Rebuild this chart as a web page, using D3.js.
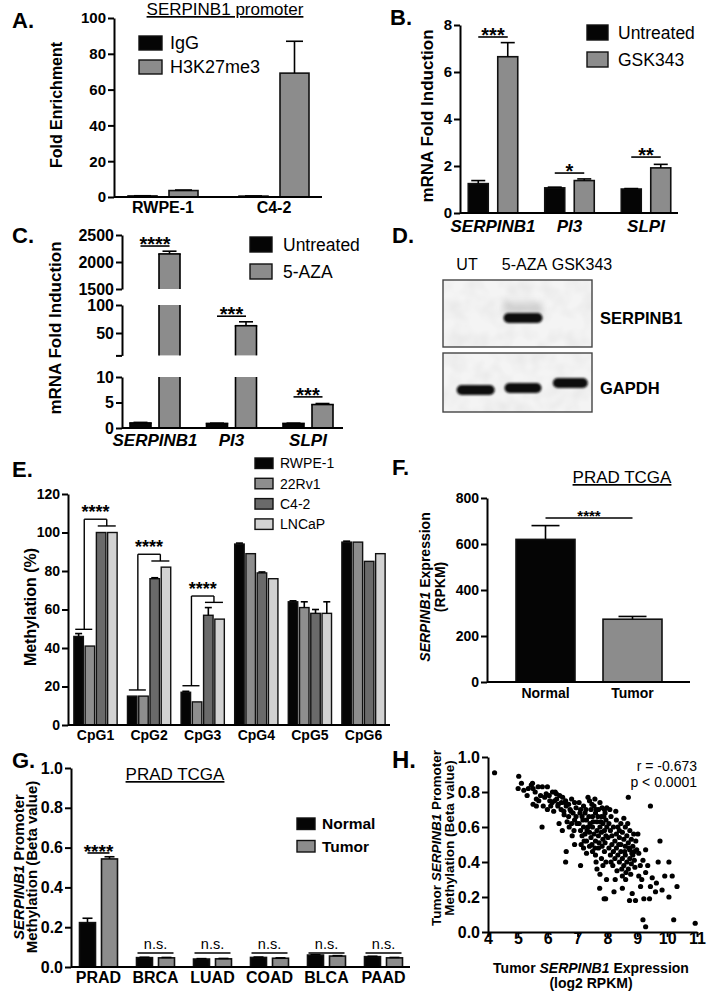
<!DOCTYPE html>
<html><head><meta charset="utf-8">
<script src="https://cdn.jsdelivr.net/npm/d3@7/dist/d3.min.js"></script>
<style>html,body{margin:0;padding:0;background:#fff;}svg{display:block;}</style>
</head><body>
<svg id="fig" width="710" height="992" xmlns="http://www.w3.org/2000/svg"></svg>
<script>
// ================= DATA =================
// Panel A – ChIP, SERPINB1 promoter
const aCategories = ["RWPE-1", "C4-2"];
const aSeries = ["IgG", "H3K27me3"];
const aIgG = [0.6, 0.5];
const aIgGErr = [0.1, 0.1];
const aH3K27me3 = [3.6, 69.2];
const aH3K27me3Err = [0.3, 17.8];
const aTicks = [0, 20, 40, 60, 80, 100];

// Panel B – GSK343
const bCategories = ["SERPINB1", "PI3", "SLPI"];
const bSeries = ["Untreated", "GSK343"];
const bUntreated = [1.25, 1.07, 1.02];
const bUntreatedErr = [0.13, 0.03, 0.02];
const bGSK343 = [6.65, 1.38, 1.92];
const bGSK343Err = [0.6, 0.07, 0.15];
const bSignif = ["***", "*", "**"];
const bSigLevel = [7.49, 1.70, 2.38];
const bTicks = [0, 2, 4, 6, 8];

// Panel C – 5-AZA (broken axis)
const cCategories = ["SERPINB1", "PI3", "SLPI"];
const cSeries = ["Untreated", "5-AZA"];
const cUntreated = [1.0, 0.9, 0.9];
const cUntreatedErr = [0.1, 0.05, 0.05];
const c5AZA = [2150, 63, 4.6];
const c5AZAErr = [50, 7, 0.2];
const cSignif = ["****", "***", "***"];
const cSigLevel = [2296, 80, 6.1];
const cSegments = [[0, 10], [10, 100], [1500, 2500]];
const cTicks = [[0, 5, 10], [10, 50, 100], [1500, 2000, 2500]];

// Panel D – western blot
const dLanes = ["UT", "5-AZA", "GSK343"];
const dBlots = ["SERPINB1", "GAPDH"];
const dSERPINB1Band = [0, 1, 0];
const dGAPDHBand = [1, 1, 1];

// Panel E – methylation (%)
const eCategories = ["CpG1", "CpG2", "CpG3", "CpG4", "CpG5", "CpG6"];
const eSeries = ["RWPE-1", "22Rv1", "C4-2", "LNCaP"];
const eRWPE1 = [46, 15, 17, 94, 64, 95];
const e22Rv1 = [41, 15, 12, 89, 61, 95];
const eC42 = [100, 76, 57, 79, 58, 85];
const eLNCaP = [100, 82, 55, 76, 58, 89];
const eRWPE1Err = [1.5, 0, 0.5, 0.5, 0.5, 0.5];
const e22Rv1Err = [0, 0, 0, 0, 3, 0];
const eC42Err = [0, 0.5, 4, 0.5, 2, 0];
const eLNCaPErr = [0, 0, 0, 0, 6, 0];
const eTicks = [0, 20, 40, 60, 80, 100, 120];
const eBracketCats = ["CpG1", "CpG2", "CpG3"];
const eBracketLeft = [49.7, 18.2, 20.4];
const eBracketRight = [103.4, 85.2, 63.7];
const eBracketTop = [106.9, 88.7, 67.0];
const eSignif = ["****", "****", "****"];

// Panel F – TCGA expression
const fCategories = ["Normal", "Tumor"];
const fValues = [620, 273];
const fErr = [60, 12];
const fTicks = [0, 200, 400, 600, 800];
const fSignif = "****";
const fSigLevel = 713;

// Panel G – TCGA promoter methylation
const gCategories = ["PRAD", "BRCA", "LUAD", "COAD", "BLCA", "PAAD"];
const gSeries = ["Normal", "Tumor"];
const gNormal = [0.223, 0.047, 0.040, 0.048, 0.060, 0.052];
const gNormalErr = [0.022, 0.002, 0.002, 0.002, 0.002, 0.002];
const gTumor = [0.543, 0.046, 0.041, 0.044, 0.055, 0.046];
const gTumorErr = [0.011, 0.002, 0.002, 0.002, 0.002, 0.002];
const gSignif = ["****", "n.s.", "n.s.", "n.s.", "n.s.", "n.s."];
const gSigLevel = [0.573, 0.07, 0.07, 0.07, 0.07, 0.07];
const gTicks = [0, 0.2, 0.4, 0.6, 0.8, 1.0];

// Panel H – scatter (log2 RPKM vs beta value)
const hPoints = [
 [4.22,0.91],
 [5.03,0.89],[5.12,0.85],[5.01,0.82],[5.31,0.78],[5.49,0.85],[5.51,0.82],[5.68,0.83],[5.82,0.83],[5.99,0.83],
 [5.62,0.76],[5.51,0.73],[5.62,0.72],[5.76,0.78],[5.81,0.60],[5.99,0.70],[5.90,0.77],[5.45,0.84],[5.70,0.75],
 [5.85,0.72],[5.95,0.79],[5.20,0.81],[5.58,0.80],[5.35,0.82],
 [6.07,0.75],[6.16,0.80],[6.29,0.79],[6.40,0.78],[6.23,0.75],[6.34,0.72],[6.46,0.74],[6.62,0.72],[6.54,0.69],
 [6.38,0.62],[6.49,0.58],[6.62,0.46],[6.60,0.40],[6.10,0.72],[6.20,0.69],[6.30,0.76],[6.50,0.77],[6.60,0.75],
 [6.70,0.73],[6.75,0.70],[6.80,0.76],[6.85,0.68],[6.90,0.74],[6.95,0.71],[6.70,0.66],[6.80,0.62],[6.90,0.64],
 [6.65,0.63],[6.05,0.78],[6.15,0.74],[6.45,0.70],[6.55,0.67],[6.72,0.60],[6.88,0.58],[6.95,0.66],[6.35,0.73],
 [6.25,0.80],[6.58,0.74],[6.78,0.69],[6.98,0.62],[6.90,0.50],[6.82,0.55],
 [7.05,0.74],[7.10,0.70],[7.15,0.66],[7.20,0.72],[7.25,0.68],[7.30,0.64],[7.35,0.77],[7.40,0.75],[7.45,0.70],
 [7.50,0.66],[7.55,0.72],[7.60,0.68],[7.65,0.63],[7.70,0.70],[7.75,0.74],[7.80,0.66],[7.85,0.62],[7.90,0.70],
 [7.95,0.64],[7.05,0.62],[7.10,0.58],[7.15,0.55],[7.20,0.60],[7.25,0.56],[7.30,0.52],[7.35,0.60],[7.40,0.57],
 [7.45,0.54],[7.50,0.60],[7.55,0.56],[7.60,0.52],[7.65,0.58],[7.70,0.55],[7.75,0.60],[7.80,0.57],[7.85,0.53],
 [7.90,0.58],[7.95,0.55],[7.10,0.38],[7.20,0.48],[7.30,0.45],[7.40,0.49],[7.50,0.46],[7.60,0.44],[7.70,0.48],
 [7.80,0.42],[7.85,0.38],[7.90,0.46],[7.65,0.36],[7.75,0.33],[7.74,0.25],[7.97,0.30],[7.89,0.19],[7.94,0.19],
 [7.48,0.73],[7.58,0.76],[7.28,0.70],[7.18,0.64],[7.62,0.70],[7.82,0.71],[7.92,0.68],[7.38,0.66],[7.42,0.62],
 [7.52,0.63],[7.68,0.66],[7.78,0.63],[7.88,0.66],[7.98,0.60],[7.22,0.52],[7.32,0.58],[7.48,0.50],[7.58,0.48],
 [7.72,0.51],[7.82,0.49],[7.92,0.51],[7.98,0.71],[7.08,0.68],[7.12,0.50],[7.62,0.40],[7.95,0.40],
 [8.05,0.62],[8.10,0.58],[8.15,0.55],[8.20,0.60],[8.25,0.52],[8.30,0.56],[8.35,0.60],[8.40,0.54],[8.45,0.50],
 [8.50,0.57],[8.55,0.53],[8.60,0.49],[8.65,0.55],[8.70,0.51],[8.75,0.47],[8.80,0.53],[8.85,0.49],[8.90,0.46],
 [8.05,0.48],[8.10,0.44],[8.15,0.50],[8.20,0.46],[8.25,0.42],[8.30,0.48],[8.35,0.44],[8.40,0.40],[8.45,0.46],
 [8.50,0.42],[8.55,0.38],[8.60,0.44],[8.65,0.40],[8.70,0.36],[8.75,0.42],[8.80,0.39],[8.85,0.44],[8.90,0.41],
 [8.22,0.23],[8.26,0.30],[8.50,0.25],[8.61,0.30],[8.50,0.32],[8.83,0.22],[8.74,0.18],[8.94,0.18],[8.70,0.77],
 [8.12,0.66],[8.30,0.64],[8.45,0.62],[8.60,0.60],[8.75,0.58],[8.88,0.56],[8.95,0.52],[8.02,0.54],[8.18,0.38],
 [8.32,0.35],[8.48,0.36],[8.62,0.34],[8.78,0.33],[8.92,0.37],[8.08,0.70],[8.28,0.69],[8.55,0.65],[8.40,0.58],
 [8.12,0.40],[8.38,0.50],[8.58,0.46],[8.72,0.48],[8.82,0.45],[8.68,0.62],[8.98,0.47],
 [9.11,0.26],[9.22,0.19],[9.28,0.34],[9.44,0.26],[9.41,0.19],[9.64,0.28],[9.61,0.23],[9.83,0.24],[9.92,0.32],
 [10.06,0.20],[10.33,0.26],[9.19,0.07],[9.28,0.03],[10.22,0.07],[10.94,0.05],[9.28,0.47],[9.19,0.41],[9.44,0.72],
 [9.76,0.52],[10.06,0.40],[10.17,0.32],[9.05,0.45],[9.10,0.38],[9.15,0.30],[9.02,0.56],[9.35,0.38],[9.50,0.31],
 [9.70,0.40],[9.05,0.32]
];
const hXTicks = [4, 5, 6, 7, 8, 9, 10, 11];
const hYTicks = [0, 0.2, 0.4, 0.6, 0.8, 1.0];
const hStats = ["r = -0.673", "p < 0.0001"];

// ================= HELPERS =================
const FONT = '"Liberation Sans", Arial, Helvetica, sans-serif';
const BLACK = "#050505", GRAY = "#8c8c8c";
const svg = d3.select("#fig");
svg.append("rect").attr("width", 710).attr("height", 992).attr("fill", "#fff");
const defs = svg.append("defs");

function T(g, x, y, s, o = {}) {
  const t = g.append("text").attr("x", x).attr("y", y).text(s)
    .attr("font-family", FONT).attr("font-size", o.size || 14)
    .attr("font-weight", o.weight || "normal").attr("font-style", o.style || "normal")
    .attr("text-anchor", o.anchor || "start").attr("fill", "#000");
  if (o.deco) t.attr("text-decoration", o.deco);
  return t;
}
function multiT(g, x, y, parts, o = {}) {
  const t = g.append("text").attr("x", x).attr("y", y)
    .attr("font-family", FONT).attr("font-size", o.size || 14).attr("font-weight", "bold")
    .attr("text-anchor", o.anchor || "middle").attr("fill", "#000");
  if (o.rotate) t.attr("transform", `rotate(-90,${x},${y})`);
  parts.forEach(([s, it]) => t.append("tspan").text(s).attr("font-style", it ? "italic" : "normal"));
  return t;
}
function hLine(g, x1, x2, y, w = 2) {
  g.append("line").attr("x1", x1).attr("x2", x2).attr("y1", y).attr("y2", y)
    .attr("stroke", "#000").attr("stroke-width", w);
}
function vLine(g, x, y1, y2, w = 2) {
  g.append("line").attr("x1", x).attr("x2", x).attr("y1", y1).attr("y2", y2)
    .attr("stroke", "#000").attr("stroke-width", w);
}
function yAxis(g, scale, x, ticks, fmt, size, tick = 6) {
  const ax = d3.axisLeft(scale).tickValues(ticks).tickSize(tick).tickSizeOuter(0).tickPadding(2);
  if (fmt) ax.tickFormat(fmt);
  const a = g.append("g").attr("transform", `translate(${x},0)`).call(ax);
  a.select(".domain").attr("stroke", "#000").attr("stroke-width", 2);
  a.selectAll(".tick line").attr("stroke", "#000").attr("stroke-width", 2);
  a.selectAll(".tick text").attr("font-family", FONT).attr("font-weight", "bold")
    .attr("font-size", size).attr("fill", "#000");
  return a;
}
function xLabels(g, band, y, size, italic) {
  const a = g.append("g").attr("transform", `translate(0,${y})`)
    .call(d3.axisBottom(band).tickSize(0).tickPadding(0));
  a.select(".domain").remove();
  a.selectAll(".tick text").attr("font-family", FONT).attr("font-weight", "bold")
    .attr("font-size", size).attr("font-style", italic ? "italic" : "normal")
    .attr("fill", "#000").attr("y", 0).attr("dy", 0);
}
function barX(outer, inner, c, s) {
  return outer(c) + outer.bandwidth() / 2 + inner(s);
}
function drawBars(g, outer, inner, y, cats, series, values, errs, colors, capW, sw = 1.6) {
  series.forEach((s, si) => {
    const rows = cats.map((c, ci) => ({ c, v: values[si][ci], e: errs[si][ci] }));
    g.selectAll(null).data(rows).join("rect")
      .attr("x", d => barX(outer, inner, d.c, s)).attr("width", inner.bandwidth())
      .attr("y", d => y(d.v)).attr("height", d => y(0) - y(d.v))
      .attr("fill", colors[si]).attr("stroke", "#111").attr("stroke-width", sw);
    rows.filter(d => d.e > 0).forEach(d => {
      const cx = barX(outer, inner, d.c, s) + inner.bandwidth() / 2;
      vLine(g, cx, y(d.v), y(d.v + d.e), 1.6);
      hLine(g, cx - capW / 2, cx + capW / 2, y(d.v + d.e), 1.6);
    });
  });
}
function legend(g, names, colors, o) {
  names.forEach((n, i) => {
    const ry = o.y0 + i * o.step;
    g.append("rect").attr("x", o.x).attr("y", ry).attr("width", o.w).attr("height", o.h)
      .attr("fill", colors[i]).attr("stroke", "#111").attr("stroke-width", 1.4);
    T(g, o.lx, ry + o.h / 2 + 0.36 * o.size, n, { size: o.size, weight: o.weight || "normal" });
  });
}
function sigMark(g, x1, x2, yy, label, size, weight = "bold", lw = 1.6) {
  hLine(g, x1, x2, yy, lw);
  if (label.startsWith("*")) T(g, (x1 + x2) / 2, yy + 0.43 * size - 3.5, label, { size, weight, anchor: "middle" });
  else T(g, (x1 + x2) / 2, yy - 4, label, { size, weight, anchor: "middle" });
}
function panelLetter(x, y, s, size = 22) { T(svg, x, y, s, { size, weight: "bold" }); }

// ================= PANEL A =================
{
  const g = svg.append("g");
  const y = d3.scaleLinear().domain([0, 100]).range([197, 18]);
  const x = d3.scaleBand().domain(aCategories).range([107.5, 329.5]);
  const xi = d3.scaleBand().domain(aSeries).range([-41, 41]).paddingInner(12 / 41).paddingOuter(6 / 41);
  drawBars(g, x, xi, y, aCategories, aSeries, [aIgG, aH3K27me3], [aIgGErr, aH3K27me3Err], [BLACK, GRAY], 17);
  hLine(g, 114, 322, 197);
  yAxis(g, y, 114, aTicks, null, 15);
  xLabels(g, x, 213, 16, false);
  T(g, 225, 15, "SERPINB1 promoter", { size: 17, anchor: "middle", deco: "underline" });
  legend(g, aSeries, [BLACK, GRAY], { x: 139, y0: 36, step: 24, w: 23, h: 14, lx: 170, size: 18 });
  multiT(g, 62, 105, [["Fold Enrichment", false]], { size: 16, rotate: true });
  panelLetter(12, 28, "A.");
}

// ================= PANEL B =================
{
  const g = svg.append("g");
  const y = d3.scaleLinear().domain([0, 8]).range([213, 25]);
  const x = d3.scaleBand().domain(bCategories).range([454.75, 684.25]);
  const xi = d3.scaleBand().domain(bSeries).range([-29.5, 29.5]).paddingInner(9.5 / 29.5).paddingOuter(4.75 / 29.5);
  drawBars(g, x, xi, y, bCategories, bSeries, [bUntreated, bGSK343], [bUntreatedErr, bGSK343Err], [BLACK, GRAY], 14);
  hLine(g, 460, 678, 213);
  yAxis(g, y, 460, bTicks, null, 15);
  xLabels(g, x, 232, 17, true);
  bCategories.forEach((c, i) => {
    const x1 = barX(x, xi, c, bSeries[0]) + xi.bandwidth() / 2;
    const x2 = barX(x, xi, c, bSeries[1]) + xi.bandwidth() / 2;
    sigMark(g, x1, x2, y(bSigLevel[i]), bSignif[i], 20);
  });
  legend(g, bSeries, [BLACK, GRAY], { x: 587, y0: 25, step: 27, w: 21, h: 15, lx: 618, size: 17.5 });
  multiT(g, 433, 116, [["mRNA Fold Induction", false]], { size: 17, rotate: true });
  panelLetter(390, 25, "B.");
}

// ================= PANEL C =================
{
  const g = svg.append("g");
  const ys = [
    d3.scaleLinear().domain(cSegments[0]).range([428, 377]),
    d3.scaleLinear().domain(cSegments[1]).range([355.4, 305]),
    d3.scaleLinear().domain(cSegments[2]).range([289, 235])
  ];
  const segOf = v => cSegments.findIndex(s => v >= s[0] && v <= s[1]);
  const x = d3.scaleBand().domain(cCategories).range([116.75, 346.25]);
  const xi = d3.scaleBand().domain(cSeries).range([-29, 29]).paddingInner(8 / 29).paddingOuter(4 / 29);
  const colors = [BLACK, GRAY];
  [cUntreated, c5AZA].forEach((vals, si) => {
    const errs = si === 0 ? cUntreatedErr : c5AZAErr;
    cCategories.forEach((c, ci) => {
      const v = vals[ci], xl = barX(x, xi, c, cSeries[si]), w = xi.bandwidth();
      cSegments.forEach((seg, k) => {
        if (v <= seg[0]) return;
        const top = ys[k](Math.min(v, seg[1])), bot = ys[k](seg[0]);
        g.append("rect").attr("x", xl).attr("y", top).attr("width", w).attr("height", bot - top).attr("fill", colors[si]);
        vLine(g, xl, top, bot, 1.6); vLine(g, xl + w, top, bot, 1.6);
        if (v <= seg[1]) hLine(g, xl - 0.8, xl + w + 0.8, top, 1.6);
      });
      const ve = v + errs[ci], k = segOf(ve);
      if (k >= 0) {
        const cx = xl + w / 2;
        vLine(g, cx, ys[k](Math.max(v, cSegments[k][0])), ys[k](ve), 1.6);
        hLine(g, cx - 7, cx + 7, ys[k](ve), 1.6);
      }
    });
  });
  hLine(g, 122, 343, 428);
  ys.forEach((s, k) => yAxis(g, s, 122, cTicks[k], d => (k === 1 && d === 10) ? "" : d, 16));
  xLabels(g, x, 446, 17, true);
  cCategories.forEach((c, i) => {
    const x1 = barX(x, xi, c, cSeries[0]) + xi.bandwidth() / 2;
    const x2 = barX(x, xi, c, cSeries[1]) + xi.bandwidth() / 2;
    const k = segOf(cSigLevel[i]);
    sigMark(g, x1, x2, ys[k](cSigLevel[i]), cSignif[i], 20);
  });
  legend(g, cSeries, colors, { x: 250, y0: 237, step: 27, w: 22, h: 15, lx: 283, size: 17.5 });
  multiT(g, 61, 328, [["mRNA Fold Induction", false]], { size: 17, rotate: true });
  panelLetter(12, 243, "C.");
}

// ================= PANEL D =================
{
  const g = svg.append("g");
  const bandBlur = defs.append("filter").attr("id", "bandBlur")
    .attr("x", "-30%").attr("y", "-80%").attr("width", "160%").attr("height", "260%");
  bandBlur.append("feGaussianBlur").attr("stdDeviation", 1.2);
  const smear = defs.append("filter").attr("id", "smear")
    .attr("x", "-30%").attr("y", "-80%").attr("width", "160%").attr("height", "260%");
  smear.append("feGaussianBlur").attr("stdDeviation", 3);
  const noise = defs.append("filter").attr("id", "blotNoise").attr("x", 0).attr("y", 0).attr("width", 1).attr("height", 1);
  noise.append("feTurbulence").attr("type", "fractalNoise").attr("baseFrequency", 0.06).attr("numOctaves", 2).attr("seed", 7);
  noise.append("feColorMatrix").attr("type", "matrix")
    .attr("values", "0 0 0 0 0.55  0 0 0 0 0.55  0 0 0 0 0.55  0.45 0 0 0 -0.16");

  const lane = d3.scaleBand().domain(dLanes).range([452, 594]);
  const laneLabel = d3.scalePoint().domain(dLanes).range([467, 582]);
  dLanes.forEach(l => T(g, laneLabel(l), 270, l, { size: 16, anchor: "middle" }));
  const boxes = [{ y: 280, h: 67 }, { y: 353, h: 59 }];
  const bandCenter = [[318, 318, 318], [390, 388, 383]];
  const bandW = [[39, 39, 39], [38, 37, 35]];
  const intens = [dSERPINB1Band, dGAPDHBand];
  dBlots.forEach((name, bi) => {
    const b = boxes[bi];
    g.append("rect").attr("x", 443).attr("y", b.y).attr("width", 149).attr("height", b.h).attr("fill", "#f4f4f4");
    g.append("rect").attr("x", 443).attr("y", b.y).attr("width", 149).attr("height", b.h)
      .attr("fill", "#fff").attr("filter", "url(#blotNoise)");
    dLanes.forEach((l, li) => {
      const a = intens[bi][li];
      if (a <= 0) return;
      const cx = lane(l) + lane.bandwidth() / 2, w = bandW[bi][li], cy = bandCenter[bi][li];
      if (bi === 0) g.append("rect").attr("x", cx - w / 2).attr("y", cy - 16).attr("width", w).attr("height", 12)
        .attr("fill", "#999").attr("opacity", 0.35 * a).attr("filter", "url(#smear)");
      g.append("rect").attr("x", cx - w / 2).attr("y", cy - 5).attr("width", w).attr("height", 10)
        .attr("rx", 5).attr("ry", 5).attr("fill", "#0c0c0c").attr("opacity", a).attr("filter", "url(#bandBlur)");
    });
    g.append("rect").attr("x", 443).attr("y", b.y).attr("width", 149).attr("height", b.h)
      .attr("fill", "none").attr("stroke", "#444").attr("stroke-width", 1.4);
    T(g, 600, bandCenter[bi][1] + 5.5, name, { size: 16.5, weight: "bold" });
  });
  panelLetter(392, 243, "D.");
}

// ================= PANEL E =================
{
  const g = svg.append("g");
  const colors = [BLACK, "#8e8e8e", "#6a6a6a", "#d2d2d2"];
  const y = d3.scaleLinear().domain([0, 120]).range([725, 494]);
  const x = d3.scaleBand().domain(eCategories).range([68.7, 390.3]);
  const xi = d3.scaleBand().domain(eSeries).range([-22.5, 22.5]).paddingInner(1.75 / 11.25).paddingOuter(0.875 / 11.25);
  drawBars(g, x, xi, y, eCategories, eSeries, [eRWPE1, e22Rv1, eC42, eLNCaP],
    [eRWPE1Err, e22Rv1Err, eC42Err, eLNCaPErr], colors, 7, 1.4);
  hLine(g, 68, 390, 725);
  yAxis(g, y, 68, eTicks, null, 14);
  xLabels(g, x, 740, 14, false);
  eBracketCats.forEach((c, i) => {
    const cx = x(c) + x.bandwidth() / 2;
    const lx = cx - 11.25, rx = cx + 11.25;
    hLine(g, lx - 9, lx + 8, y(eBracketLeft[i]), 1.4);
    vLine(g, lx, y(eBracketLeft[i]), y(eBracketTop[i]), 1.4);
    hLine(g, lx, rx, y(eBracketTop[i]), 1.4);
    vLine(g, rx, y(eBracketTop[i]), y(eBracketRight[i]), 1.4);
    hLine(g, rx - 9, rx + 9, y(eBracketRight[i]), 1.4);
    T(g, cx, y(eBracketTop[i]) - 1.5, eSignif[i], { size: 18, weight: "bold", anchor: "middle" });
  });
  legend(g, eSeries, colors, { x: 255, y0: 458, step: 20.3, w: 18, h: 10.5, lx: 280, size: 14 });
  multiT(g, 36, 607, [["Methylation (%)", false]], { size: 16, rotate: true });
  panelLetter(12, 477, "E.");
}

// ================= PANEL F =================
{
  const g = svg.append("g");
  const y = d3.scaleLinear().domain([0, 800]).range([682, 498]);
  const x = d3.scaleBand().domain(fCategories).range([502, 676]).paddingInner(0.322).paddingOuter(0.161);
  const colors = [BLACK, GRAY];
  g.selectAll(null).data(fCategories).join("rect")
    .attr("x", d => x(d)).attr("width", x.bandwidth())
    .attr("y", (d, i) => y(fValues[i])).attr("height", (d, i) => y(0) - y(fValues[i]))
    .attr("fill", (d, i) => colors[i]).attr("stroke", "#111").attr("stroke-width", 1.6);
  fCategories.forEach((c, i) => {
    const cx = x(c) + x.bandwidth() / 2;
    vLine(g, cx, y(fValues[i]), y(fValues[i] + fErr[i]), 1.6);
    hLine(g, cx - 14, cx + 14, y(fValues[i] + fErr[i]), 1.6);
  });
  hLine(g, 487, 690, 682);
  yAxis(g, y, 487, fTicks, null, 14);
  xLabels(g, x, 698, 14, false);
  const c1 = x(fCategories[0]) + x.bandwidth() / 2, c2 = x(fCategories[1]) + x.bandwidth() / 2;
  sigMark(g, c1, c2, y(fSigLevel), fSignif, 15);
  T(g, 622, 483, "PRAD TCGA", { size: 17, anchor: "middle", deco: "underline" });
  multiT(g, 430, 587, [["SERPINB1", true], [" Expression", false]], { size: 14, rotate: true });
  multiT(g, 445, 587, [["(RPKM)", false]], { size: 14, rotate: true });
  panelLetter(392, 475, "F.");
}

// ================= PANEL G =================
{
  const g = svg.append("g");
  const colors = [BLACK, GRAY];
  const y = d3.scaleLinear().domain([0, 1]).range([967, 768]);
  const x = d3.scaleBand().domain(gCategories).range([70, 412]);
  const xi = d3.scaleBand().domain(gSeries).range([-22, 22]).paddingInner(6 / 22).paddingOuter(3 / 22);
  drawBars(g, x, xi, y, gCategories, gSeries, [gNormal, gTumor], [gNormalErr, gTumorErr], colors, 10);
  hLine(g, 71, 410, 967);
  yAxis(g, y, 71, gTicks, d3.format(".1f"), 16);
  xLabels(g, x, 983, 16, false);
  gCategories.forEach((c, i) => {
    const x1 = barX(x, xi, c, gSeries[0]) + xi.bandwidth() / 2;
    const x2 = barX(x, xi, c, gSeries[1]) + xi.bandwidth() / 2;
    if (gSignif[i].startsWith("*")) sigMark(g, x1, x2, y(gSigLevel[i]), gSignif[i], 19);
    else sigMark(g, x1 - 7, x2 + 7, y(gSigLevel[i]), gSignif[i], 14.5, "normal", 1.4);
  });
  T(g, 175, 780, "PRAD TCGA", { size: 17, anchor: "middle", deco: "underline" });
  legend(g, gSeries, colors, { x: 297, y0: 818, step: 22.5, w: 18, h: 11.5, lx: 322, size: 15.5, weight: "bold" });
  multiT(g, 24, 867, [["SERPINB1", true], [" Promoter", false]], { size: 15, rotate: true });
  multiT(g, 37, 867, [["Methylation (Beta value)", false]], { size: 15, rotate: true });
  panelLetter(12, 768, "G.");
}

// ================= PANEL H =================
{
  const g = svg.append("g");
  const x = d3.scaleLinear().domain([4, 11]).range([488, 697]);
  const y = d3.scaleLinear().domain([0, 1]).range([932, 757]);
  g.selectAll(null).data(hPoints).join("circle")
    .attr("cx", d => x(d[0])).attr("cy", d => y(d[1])).attr("r", 2.6).attr("fill", "#000");
  yAxis(g, y, 488, hYTicks, d3.format(".1f"), 16);
  const ax = g.append("g").attr("transform", "translate(0,932)")
    .call(d3.axisBottom(x).tickValues(hXTicks).tickFormat(d3.format("d")).tickSize(5).tickSizeOuter(0));
  ax.select(".domain").attr("stroke", "#000").attr("stroke-width", 2);
  ax.selectAll(".tick line").attr("stroke", "#000").attr("stroke-width", 2);
  ax.selectAll(".tick text").attr("font-family", FONT).attr("font-weight", "bold")
    .attr("font-size", 16).attr("fill", "#000").attr("y", 12).attr("dy", 0);
  T(g, 697, 771, hStats[0], { size: 14, anchor: "end" });
  T(g, 697, 787, hStats[1], { size: 14, anchor: "end" });
  multiT(g, 591, 973, [["Tumor ", false], ["SERPINB1", true], [" Expression", false]], { size: 14 });
  multiT(g, 591, 988, [["(log2 RPKM)", false]], { size: 14 });
  multiT(g, 441, 838, [["Tumor ", false], ["SERPINB1", true], [" Promoter", false]], { size: 13.5, rotate: true });
  multiT(g, 454, 838, [["Methylation (Beta value)", false]], { size: 13.5, rotate: true });
  panelLetter(392, 768, "H.", 24);
}
</script>
</body></html>
